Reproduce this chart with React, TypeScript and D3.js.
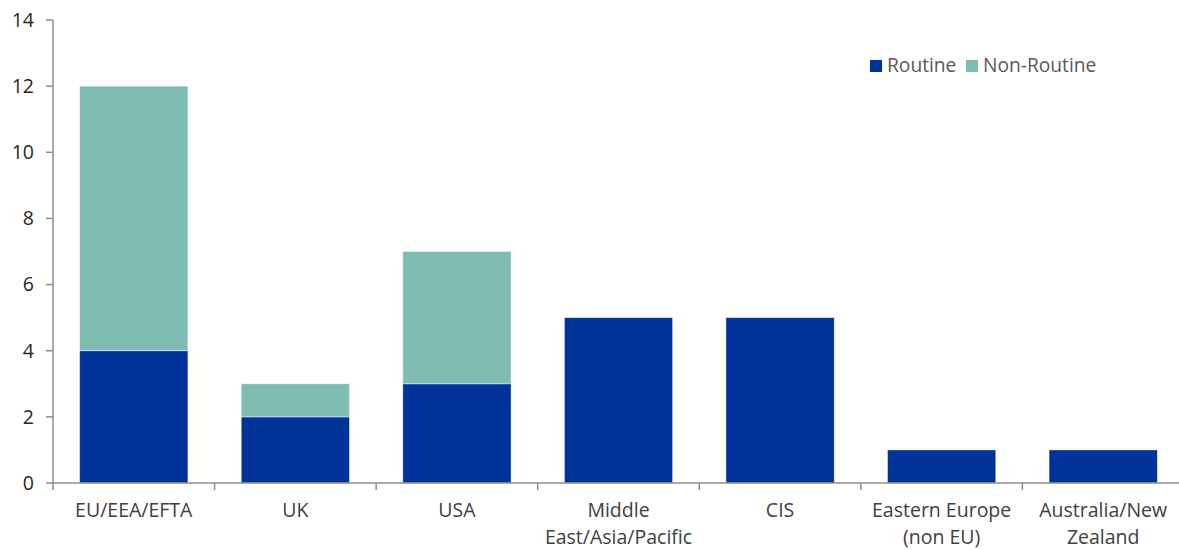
import React from "react";
import * as d3 from "d3";

const categories: string[][] = [
  ["EU/EEA/EFTA"],
  ["UK"],
  ["USA"],
  ["Middle", "East/Asia/Pacific"],
  ["CIS"],
  ["Eastern Europe", "(non EU)"],
  ["Australia/New", "Zealand"],
];
const routine = [4, 2, 3, 5, 5, 1, 1];
const nonRoutine = [8, 1, 4, 0, 0, 0, 0];
const yTicks = [0, 2, 4, 6, 8, 10, 12, 14];
const seriesNames = ["Routine", "Non-Routine"];
const colors = ["#003399", "#7fbcb2"];

const W = 1179;
const H = 550;
const left = 53;
const right = 1184;
const top = 20;
const bottom = 483;
const font = "'Open Sans', sans-serif";
const axisColor = "#8c8c8c";

export default function App() {
  const keys = categories.map((c) => c.join(" "));
  const x = d3.scaleBand<string>().domain(keys).range([left, right]).paddingInner(0.33).paddingOuter(0.165);
  const band = d3.scaleBand<string>().domain(keys).range([left, right]);
  const y = d3.scaleLinear().domain([0, 14]).range([bottom, top]);

  const rows = keys.map((k, i) => ({ key: k, Routine: routine[i], "Non-Routine": nonRoutine[i] }));
  const stacked = d3.stack<any>().keys(seriesNames)(rows);

  return (
    <svg width={W} height={H} style={{ position: "absolute", left: 0, top: 0, background: "#fff" }}>
      <rect width={W} height={H} fill="#fff" />
      {stacked.map((s, si) =>
        s.map((d, i) =>
          d[1] - d[0] > 0 ? (
            <rect
              key={`${si}-${i}`}
              x={x(keys[i])}
              width={x.bandwidth()}
              y={y(d[1])}
              height={y(d[0]) - y(d[1])}
              fill={colors[si]}
              stroke="#ffffff"
              strokeOpacity={0.55}
              strokeWidth={0.8}
            />
          ) : null
        )
      )}
      {/* y axis */}
      <line x1={left} x2={left} y1={top} y2={bottom} stroke={axisColor} strokeWidth={1.5} />
      {yTicks.map((t) => (
        <g key={t}>
          <line x1={left - 7} x2={left} y1={y(t)} y2={y(t)} stroke={axisColor} strokeWidth={1.5} />
          <text x={34} y={y(t)} dy="0.35em" textAnchor="end" fontFamily={font} fontSize={19.5} fill="#262626">
            {t}
          </text>
        </g>
      ))}
      {/* x axis */}
      <line x1={left} x2={right} y1={bottom} y2={bottom} stroke={axisColor} strokeWidth={1.5} />
      {keys.map((k) => (
        <line key={k} x1={band(k)!} x2={band(k)!} y1={bottom} y2={bottom + 7} stroke={axisColor} strokeWidth={1.5} />
      ))}
      {categories.map((lines, i) => (
        <text
          key={keys[i]}
          x={x(keys[i])! + x.bandwidth() / 2}
          y={517}
          textAnchor="middle"
          fontFamily={font}
          fontSize={19.5}
          fill="#404040"
        >
          {lines.map((l, j) => (
            <tspan key={j} x={x(keys[i])! + x.bandwidth() / 2} dy={j === 0 ? 0 : 27}>
              {l}
            </tspan>
          ))}
        </text>
      ))}
      {/* legend */}
      <g fontFamily={font} fontSize={19.2} fill="#595959">
        <rect x={870} y={60} width={12} height={12} fill={colors[0]} />
        <text x={887} y={72}>{seriesNames[0]}</text>
        <rect x={966} y={60} width={12} height={12} fill={colors[1]} />
        <text x={983} y={72}>{seriesNames[1]}</text>
      </g>
    </svg>
  );
}
